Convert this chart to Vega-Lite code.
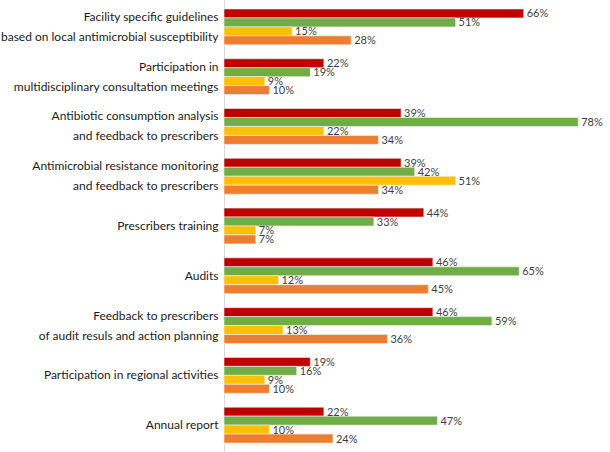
{
  "$schema": "https://vega.github.io/schema/vega-lite/v6.json",
  "autosize": "none",
  "width": 386,
  "height": 452,
  "padding": {"left": 224, "top": 0, "right": 0, "bottom": 0},
  "background": "white",
  "data": {
    "values": [
      {"category": "Facility specific guidelines\nbased on local antimicrobial susceptibility", "series": "S1", "value": 66},
      {"category": "Facility specific guidelines\nbased on local antimicrobial susceptibility", "series": "S2", "value": 51},
      {"category": "Facility specific guidelines\nbased on local antimicrobial susceptibility", "series": "S3", "value": 15},
      {"category": "Facility specific guidelines\nbased on local antimicrobial susceptibility", "series": "S4", "value": 28},
      {"category": "Participation in\nmultidisciplinary consultation meetings", "series": "S1", "value": 22},
      {"category": "Participation in\nmultidisciplinary consultation meetings", "series": "S2", "value": 19},
      {"category": "Participation in\nmultidisciplinary consultation meetings", "series": "S3", "value": 9},
      {"category": "Participation in\nmultidisciplinary consultation meetings", "series": "S4", "value": 10},
      {"category": "Antibiotic consumption analysis\nand feedback to prescribers", "series": "S1", "value": 39},
      {"category": "Antibiotic consumption analysis\nand feedback to prescribers", "series": "S2", "value": 78},
      {"category": "Antibiotic consumption analysis\nand feedback to prescribers", "series": "S3", "value": 22},
      {"category": "Antibiotic consumption analysis\nand feedback to prescribers", "series": "S4", "value": 34},
      {"category": "Antimicrobial resistance monitoring\nand feedback to prescribers", "series": "S1", "value": 39},
      {"category": "Antimicrobial resistance monitoring\nand feedback to prescribers", "series": "S2", "value": 42},
      {"category": "Antimicrobial resistance monitoring\nand feedback to prescribers", "series": "S3", "value": 51},
      {"category": "Antimicrobial resistance monitoring\nand feedback to prescribers", "series": "S4", "value": 34},
      {"category": "Prescribers training", "series": "S1", "value": 44},
      {"category": "Prescribers training", "series": "S2", "value": 33},
      {"category": "Prescribers training", "series": "S3", "value": 7},
      {"category": "Prescribers training", "series": "S4", "value": 7},
      {"category": "Audits", "series": "S1", "value": 46},
      {"category": "Audits", "series": "S2", "value": 65},
      {"category": "Audits", "series": "S3", "value": 12},
      {"category": "Audits", "series": "S4", "value": 45},
      {"category": "Feedback to prescribers\nof audit resuls and action planning", "series": "S1", "value": 46},
      {"category": "Feedback to prescribers\nof audit resuls and action planning", "series": "S2", "value": 59},
      {"category": "Feedback to prescribers\nof audit resuls and action planning", "series": "S3", "value": 13},
      {"category": "Feedback to prescribers\nof audit resuls and action planning", "series": "S4", "value": 36},
      {"category": "Participation in regional activities", "series": "S1", "value": 19},
      {"category": "Participation in regional activities", "series": "S2", "value": 16},
      {"category": "Participation in regional activities", "series": "S3", "value": 9},
      {"category": "Participation in regional activities", "series": "S4", "value": 10},
      {"category": "Annual report", "series": "S1", "value": 22},
      {"category": "Annual report", "series": "S2", "value": 47},
      {"category": "Annual report", "series": "S3", "value": 10},
      {"category": "Annual report", "series": "S4", "value": 24}
    ]
  },
  "encoding": {
    "y": {
      "field": "category",
      "type": "nominal",
      "sort": null,
      "scale": {"paddingInner": 0.28, "paddingOuter": 0.18},
      "axis": {
        "title": null,
        "ticks": false,
        "labelPadding": 6,
        "labelFont": "Lato",
        "labelFontSize": 12,
        "labelColor": "#1a1a1a",
        "labelLimit": 0,
        "labelLineHeight": 20,
        "labelExpr": "split(datum.label, '\\n')",
        "labelOffset": {"condition": {"test": "length(split(datum.value, '\\n')) > 1", "value": -10}, "value": 0},
        "domainColor": "#d9d9d9",
        "domainWidth": 1
      }
    },
    "yOffset": {"field": "series", "type": "nominal", "sort": ["S1", "S2", "S3", "S4"]},
    "x": {
      "field": "value",
      "type": "quantitative",
      "scale": {"domain": [0, 85], "nice": false},
      "axis": null
    }
  },
  "layer": [
    {
      "mark": {"type": "bar", "stroke": "#f2f2f2", "strokeWidth": 0.6},
      "encoding": {
        "color": {
          "field": "series",
          "type": "nominal",
          "scale": {"domain": ["S1", "S2", "S3", "S4"], "range": ["#C00000", "#70AD47", "#FFC000", "#ED7D31"]},
          "legend": null
        }
      }
    },
    {
      "transform": [{"calculate": "datum.value + '%'", "as": "lbl"}],
      "mark": {"type": "text", "align": "left", "baseline": "middle", "dx": 3, "dy": 1, "font": "Lato", "fontSize": 11, "color": "#404040"},
      "encoding": {
        "text": {"field": "lbl", "type": "nominal"},
        "detail": {"field": "series"}
      }
    }
  ],
  "config": {"view": {"stroke": null}}
}
